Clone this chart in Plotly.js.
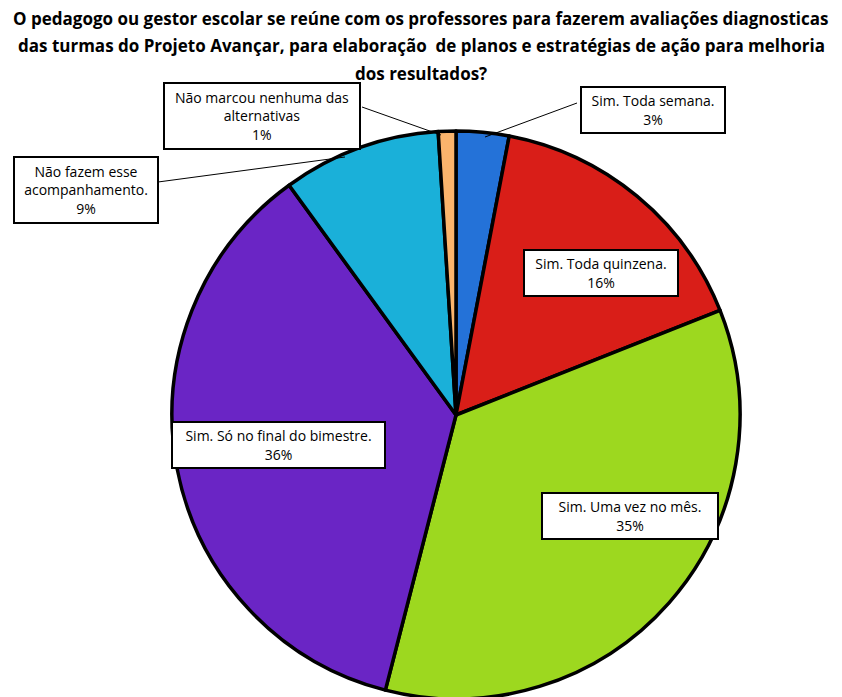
<!DOCTYPE html>
<html>
<head>
<meta charset="utf-8">
<script src="https://cdn.plot.ly/plotly-3.0.1.min.js"></script>
<style>
html,body{margin:0;padding:0;overflow:hidden;background:#fff;}
#chart{width:842px;height:720px;}
</style>
</head>
<body>
<div id="chart"></div>
<script>
const categories = [
  "Sim. Toda semana.",
  "Sim. Toda quinzena.",
  "Sim. Uma vez no mês.",
  "Sim. Só no final do bimestre.",
  "Não fazem esse acompanhamento.",
  "Não marcou nenhuma das alternativas"
];
const values = [3, 16, 35, 36, 9, 1];
const labelText = [
  "Sim. Toda semana.<br>3%",
  "Sim. Toda quinzena.<br>16%",
  "Sim. Uma vez no mês.<br>35%",
  "Sim. Só no final do bimestre.<br>36%",
  "Não fazem esse<br>acompanhamento.<br>9%",
  "Não marcou nenhuma das<br>alternativas<br>1%"
];
const colors = ["#2472d8", "#d91e18", "#9dd81f", "#6a25c5", "#1ab0d9", "#fbb46c"];
const titleLines = [
  "O pedagogo ou gestor escolar se reúne com os professores para fazerem avaliações diagnosticas",
  "das turmas do Projeto Avançar, para elaboração  de planos e estratégias de ação para melhoria",
  "dos resultados?"
];

// layout geometry (pixels)
const W = 842, H = 720;
const L = 172, T = 131, PW = 568, PH = 568;
const px = x => (x - L) / PW;
const py = y => (T + PH - y) / PH;

const labelPos = [
  {x: 653, y: 110, w: 136, h: 38},
  {x: 601, y: 273, w: 146, h: 38},
  {x: 630, y: 516, w: 168, h: 38},
  {x: 278, y: 445, w: 205, h: 38},
  {x: 86,  y: 190, w: 136, h: 58},
  {x: 262, y: 116, w: 188, h: 58}
];
const leaders = [
  [577, 103, 485, 137],
  [362, 107, 441, 135],
  [158, 182, 345, 157]
];

const annotations = [];
titleLines.forEach((t, i) => {
  annotations.push({
    text: "<b>" + t + "</b>", xref: "paper", yref: "paper",
    x: px(421), y: py(18 + i * 27.5), xanchor: "center", yanchor: "middle",
    showarrow: false, font: {family: "Open Sans, sans-serif", size: 17, color: "#000"}
  });
});
labelText.forEach((t, i) => {
  const p = labelPos[i];
  annotations.push({
    text: t, xref: "paper", yref: "paper",
    x: px(p.x), y: py(p.y), xanchor: "center", yanchor: "middle",
    width: p.w, height: p.h,
    showarrow: false, bgcolor: "#fff", bordercolor: "#000", borderwidth: 2, borderpad: 3,
    font: {family: "Open Sans, sans-serif", size: 14, color: "#000"}
  });
});

const shapes = leaders.map(l => ({
  type: "line", xref: "paper", yref: "paper",
  x0: px(l[0]), y0: py(l[1]), x1: px(l[2]), y1: py(l[3]),
  line: {color: "#000", width: 1}
}));

Plotly.newPlot("chart", [{
  type: "pie",
  labels: categories,
  values: values,
  sort: false,
  direction: "clockwise",
  rotation: 0,
  textinfo: "none",
  hoverinfo: "label+percent",
  marker: {colors: colors, line: {color: "#000", width: 3.5}},
  domain: {x: [0, 1], y: [0, 1]}
}], {
  width: W, height: H,
  margin: {l: L, r: W - L - PW, t: T, b: H - T - PH},
  showlegend: false,
  paper_bgcolor: "#fff",
  annotations: annotations,
  shapes: shapes
}, {staticPlot: true});
</script>
</body>
</html>
